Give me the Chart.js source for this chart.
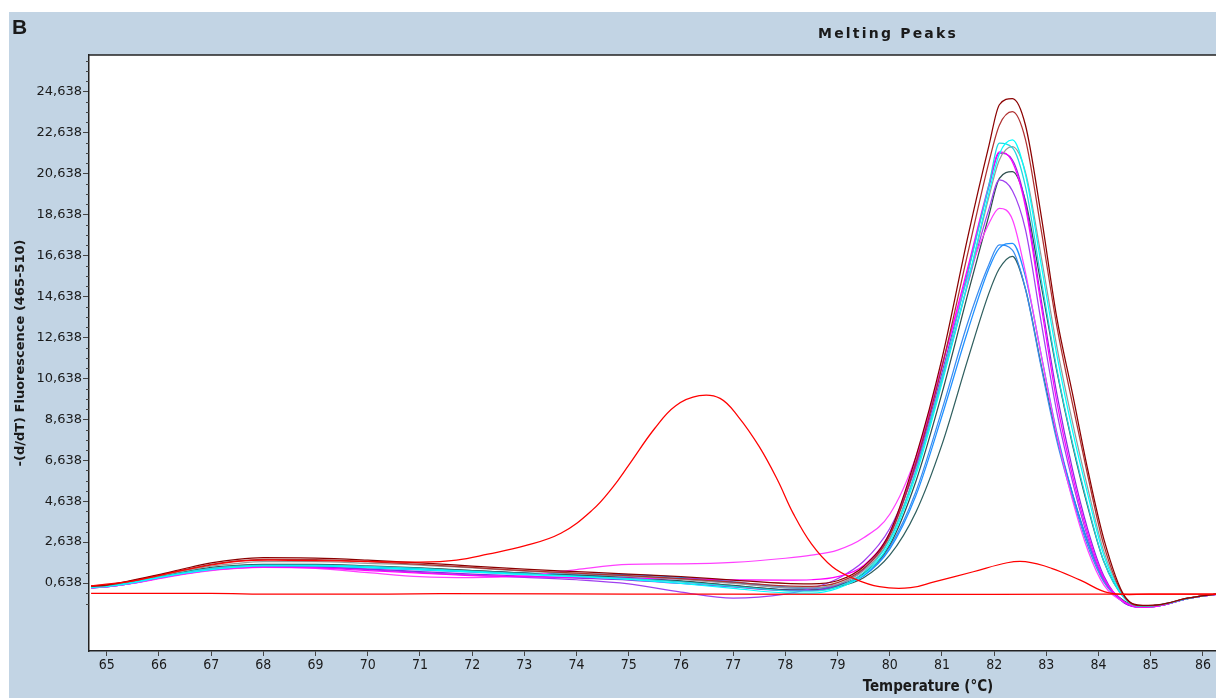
<!DOCTYPE html>
<html>
<head>
<meta charset="utf-8">
<title>Melting Peaks</title>
<script src="https://cdn.jsdelivr.net/npm/chart.js@4.4.1/dist/chart.umd.min.js"></script>
<style>
  html, body { margin: 0; padding: 0; background: #ffffff; overflow: hidden; }
  canvas { display: block; }
</style>
</head>
<body>
<canvas id="chart" width="1216" height="698"></canvas>
<script>
// Temperature grid (°C) shared by the sample curves
const temps = [64.7, 65.0, 65.5, 66.0, 66.5, 67.0, 67.5, 68.0, 69.0, 70.0, 71.0, 72.0, 73.0, 74.0, 75.0, 76.0, 77.0, 78.0, 78.5, 79.0, 79.5, 80.0, 80.5, 81.0, 81.5, 81.9, 82.1, 82.35, 82.6, 82.9, 83.2, 83.5, 83.8, 84.1, 84.5, 84.85, 85.2, 85.7, 86.3];

// -(d/dT) fluorescence, one list per well
const wellA1 = [0.50, 0.55, 0.78, 1.05, 1.35, 1.62, 1.80, 1.88, 1.86, 1.76, 1.63, 1.47, 1.32, 1.20, 1.08, 0.95, 0.78, 0.62, 0.60, 0.75, 1.45, 3.10, 6.80, 11.60, 17.60, 22.00, 24.00, 24.30, 23.00, 18.60, 13.60, 9.90, 6.10, 2.80, 0.00, -0.45, -0.40, -0.10, 0.12];
const wellA2 = [0.48, 0.53, 0.75, 1.02, 1.30, 1.55, 1.72, 1.80, 1.78, 1.68, 1.55, 1.40, 1.25, 1.12, 1.00, 0.86, 0.68, 0.50, 0.48, 0.66, 1.35, 2.95, 6.50, 11.20, 16.80, 21.20, 23.00, 23.66, 22.30, 17.90, 13.20, 9.40, 5.80, 2.50, -0.05, -0.48, -0.42, -0.10, 0.12];
const wellA3 = [0.42, 0.47, 0.65, 0.90, 1.12, 1.30, 1.42, 1.48, 1.48, 1.40, 1.30, 1.18, 1.05, 0.95, 0.82, 0.62, 0.38, 0.16, 0.15, 0.38, 1.05, 2.60, 5.90, 10.40, 15.40, 19.70, 21.60, 22.28, 20.60, 16.20, 11.80, 8.10, 4.90, 2.00, -0.10, -0.50, -0.42, -0.12, 0.12];
const wellA4 = [0.44, 0.49, 0.68, 0.93, 1.16, 1.35, 1.46, 1.52, 1.52, 1.45, 1.35, 1.22, 1.10, 0.98, 0.86, 0.70, 0.48, 0.26, 0.24, 0.45, 1.15, 2.75, 6.10, 10.70, 15.80, 20.10, 22.12, 21.90, 20.00, 15.50, 11.10, 7.50, 4.40, 1.70, -0.12, -0.50, -0.42, -0.12, 0.12];
const wellA5 = [0.46, 0.51, 0.72, 0.98, 1.24, 1.46, 1.60, 1.68, 1.68, 1.60, 1.52, 1.38, 1.22, 1.10, 0.98, 0.82, 0.62, 0.42, 0.40, 0.58, 1.25, 2.80, 6.10, 10.50, 15.30, 19.50, 21.30, 21.95, 20.70, 16.60, 12.20, 8.50, 5.20, 2.20, -0.05, -0.48, -0.42, -0.10, 0.12];
const wellA6 = [0.42, 0.46, 0.64, 0.88, 1.10, 1.28, 1.38, 1.42, 1.38, 1.25, 1.12, 1.00, 0.95, 0.92, 0.88, 0.84, 0.80, 0.78, 0.80, 0.95, 1.50, 3.10, 6.60, 11.20, 16.10, 20.10, 21.70, 21.20, 19.00, 14.20, 9.50, 5.90, 3.00, 0.90, -0.30, -0.55, -0.45, -0.12, 0.10];
const wellB1 = [0.42, 0.46, 0.62, 0.85, 1.08, 1.25, 1.35, 1.40, 1.35, 1.15, 0.95, 0.90, 1.00, 1.30, 1.55, 1.58, 1.65, 1.85, 2.00, 2.25, 2.85, 4.00, 6.80, 11.30, 15.60, 18.20, 18.94, 18.40, 15.80, 11.80, 7.90, 4.70, 2.20, 0.55, -0.30, -0.55, -0.45, -0.12, 0.10];
const wellB2 = [0.40, 0.45, 0.63, 0.88, 1.12, 1.30, 1.40, 1.45, 1.42, 1.32, 1.20, 1.08, 0.98, 0.88, 0.78, 0.62, 0.45, 0.28, 0.28, 0.55, 1.30, 3.00, 6.40, 10.90, 15.90, 20.00, 21.64, 21.30, 19.20, 14.50, 9.90, 6.20, 3.20, 1.00, -0.35, -0.55, -0.45, -0.12, 0.10];
const wellB3 = [0.40, 0.45, 0.63, 0.88, 1.10, 1.27, 1.37, 1.42, 1.40, 1.30, 1.15, 1.02, 0.92, 0.80, 0.60, 0.20, -0.10, 0.10, 0.38, 0.85, 1.70, 3.30, 6.30, 10.60, 15.30, 18.90, 20.33, 19.80, 17.90, 13.40, 9.00, 5.60, 2.80, 0.80, -0.35, -0.55, -0.45, -0.12, 0.10];
const wellB4 = [0.45, 0.50, 0.70, 0.95, 1.20, 1.40, 1.50, 1.55, 1.55, 1.48, 1.38, 1.25, 1.12, 1.02, 0.90, 0.74, 0.52, 0.32, 0.30, 0.50, 1.10, 2.50, 5.60, 9.90, 14.80, 18.60, 20.40, 20.73, 19.30, 15.20, 11.00, 7.40, 4.30, 1.70, -0.10, -0.50, -0.42, -0.12, 0.12];
const wellB5 = [0.44, 0.49, 0.68, 0.92, 1.16, 1.34, 1.45, 1.50, 1.50, 1.42, 1.33, 1.22, 1.12, 1.08, 1.05, 0.92, 0.70, 0.45, 0.40, 0.55, 1.00, 2.30, 4.90, 8.80, 13.00, 16.00, 17.00, 17.23, 15.60, 11.80, 8.00, 5.00, 2.60, 0.80, -0.30, -0.55, -0.45, -0.12, 0.10];
const wellB6 = [0.43, 0.48, 0.66, 0.90, 1.13, 1.31, 1.42, 1.47, 1.46, 1.38, 1.28, 1.17, 1.08, 1.02, 0.98, 0.86, 0.65, 0.40, 0.36, 0.52, 1.00, 2.40, 5.10, 9.10, 13.40, 16.20, 17.15, 16.90, 15.00, 11.20, 7.60, 4.80, 2.40, 0.70, -0.32, -0.55, -0.45, -0.12, 0.10];
const wellC1 = [0.44, 0.49, 0.68, 0.92, 1.15, 1.33, 1.44, 1.50, 1.50, 1.44, 1.36, 1.24, 1.12, 1.00, 0.88, 0.72, 0.50, 0.30, 0.28, 0.45, 0.90, 2.00, 4.10, 7.40, 11.60, 14.80, 16.00, 16.60, 15.00, 11.30, 7.80, 5.00, 2.60, 0.80, -0.25, -0.52, -0.45, -0.12, 0.10];

// Well with the early (primer-dimer) peak, on its own temperature grid
const dimerTemps = [64.7, 65.5, 66.5, 67.5, 68.5, 70.0, 71.0, 71.7, 72.3, 73.0, 73.7, 74.3, 74.7, 75.0, 75.5, 75.9, 76.35, 76.75, 77.1, 77.5, 77.85, 78.15, 78.5, 78.9, 79.3, 79.8, 80.4, 80.85, 81.6, 82.25, 82.6, 83.1, 83.65, 84.2, 85.0, 86.3];
const dimerWell = [0.50, 0.75, 1.28, 1.70, 1.75, 1.70, 1.66, 1.76, 2.05, 2.45, 3.07, 4.20, 5.34, 6.40, 8.20, 9.30, 9.79, 9.66, 8.76, 7.30, 5.67, 4.04, 2.55, 1.43, 0.87, 0.46, 0.41, 0.70, 1.19, 1.63, 1.68, 1.36, 0.78, 0.16, 0.10, 0.10];

// No-template control
const ntcTemps = [64.7, 67.0, 68.2, 70.4, 71.4, 75.0, 80.0, 84.0, 86.3];
const ntcWell = [0.13, 0.13, 0.10, 0.10, 0.12, 0.10, 0.08, 0.10, 0.10];

// Axis ticks
const xTicks = [65, 66, 67, 68, 69, 70, 71, 72, 73, 74, 75, 76, 77, 78, 79, 80, 81, 82, 83, 84, 85, 86];
const yTicks = [0.638, 2.638, 4.638, 6.638, 8.638, 10.638, 12.638, 14.638, 16.638, 18.638, 20.638, 22.638, 24.638];
const yTickLabels = ['0,638', '2,638', '4,638', '6,638', '8,638', '10,638', '12,638', '14,638', '16,638', '18,638', '20,638', '22,638', '24,638'];

const PANEL = '#C2D4E4';
const INK = '#1a1a1a';

const pts = (xs, ys) => xs.map((x, i) => ({ x: x, y: ys[i] }));

const series = [
  { label: 'Dimer', xs: dimerTemps, ys: dimerWell, color: '#FF0000', smooth: true },
  { label: 'NTC', xs: ntcTemps, ys: ntcWell, color: '#FF0000' },
  { label: 'A1', xs: temps, ys: wellA1, color: '#8B0000' },
  { label: 'A2', xs: temps, ys: wellA2, color: '#B03030' },
  { label: 'A3', xs: temps, ys: wellA3, color: '#00FFFF' },
  { label: 'A4', xs: temps, ys: wellA4, color: '#20D8E0' },
  { label: 'A5', xs: temps, ys: wellA5, color: '#9A9A9A' },
  { label: 'A6', xs: temps, ys: wellA6, color: '#FF00FF' },
  { label: 'B1', xs: temps, ys: wellB1, color: '#FF40FF' },
  { label: 'B2', xs: temps, ys: wellB2, color: '#8A2BE2' },
  { label: 'B3', xs: temps, ys: wellB3, color: '#A040F0' },
  { label: 'B4', xs: temps, ys: wellB4, color: '#2F4F4F' },
  { label: 'B5', xs: temps, ys: wellB5, color: '#1E90FF' },
  { label: 'B6', xs: temps, ys: wellB6, color: '#3A8CF0' },
  { label: 'C1', xs: temps, ys: wellC1, color: '#2F5F5F' }
];

const frame = {
  id: 'frame',
  beforeDraw(chart) {
    const { ctx, chartArea: a, width, height } = chart;
    ctx.save();
    ctx.fillStyle = '#ffffff';
    ctx.fillRect(0, 0, width, height);
    ctx.fillStyle = PANEL;
    ctx.fillRect(9, 12, width - 9, height - 12);
    ctx.fillStyle = '#ffffff';
    ctx.fillRect(a.left, a.top, a.right - a.left, a.bottom - a.top);
    ctx.restore();
  },
  afterDraw(chart) {
    const { ctx, chartArea: a } = chart;
    const ys = chart.scales.y;
    ctx.save();
    // top edge of the plot box
    ctx.strokeStyle = '#222';
    ctx.lineWidth = 1.5;
    ctx.beginPath();
    ctx.moveTo(a.left, a.top);
    ctx.lineTo(a.right, a.top);
    ctx.stroke();
    // minor ticks every 0.5 on the y axis
    ctx.lineWidth = 1;
    ctx.strokeStyle = '#444';
    for (let k = -2; k <= 51; k++) {
      if (k % 4 === 0) continue;
      const py = Math.round(ys.getPixelForValue(0.638 + 0.5 * k)) + 0.5;
      if (py < a.top || py > a.bottom) continue;
      ctx.beginPath();
      ctx.moveTo(a.left - 3, py);
      ctx.lineTo(a.left, py);
      ctx.stroke();
    }
    // panel letter and headings
    ctx.fillStyle = INK;
    ctx.textAlign = 'left';
    ctx.textBaseline = 'alphabetic';
    ctx.font = 'bold 21px "Liberation Sans", Arial, sans-serif';
    ctx.fillText('B', 12, 34);
    ctx.font = 'bold 14px "DejaVu Sans", sans-serif';
    ctx.letterSpacing = '2.2px';
    ctx.fillText('Melting Peaks', 818, 38);
    ctx.letterSpacing = '0px';
    ctx.font = 'bold 15px "DejaVu Sans Condensed", "DejaVu Sans", sans-serif';
    ctx.textAlign = 'center';
    ctx.fillText('Temperature (°C)', 928, 691);
    ctx.restore();
  }
};

new Chart(document.getElementById('chart'), {
  type: 'line',
  data: {
    datasets: series.map(s => ({
      label: s.label,
      data: pts(s.xs, s.ys),
      borderColor: s.color,
      backgroundColor: s.color,
      borderWidth: 1.25,
      pointRadius: 0,
      fill: false,
      cubicInterpolationMode: s.smooth ? 'default' : 'monotone',
      tension: s.smooth ? 0.4 : 0
    }))
  },
  options: {
    responsive: false,
    devicePixelRatio: 1,
    animation: false,
    events: [],
    layout: { padding: { top: 55, left: 0, right: 0, bottom: 0 } },
    plugins: { legend: { display: false }, tooltip: { enabled: false }, title: { display: false } },
    scales: {
      x: {
        type: 'linear',
        min: 64.66,
        max: 86.25,
        afterBuildTicks: scale => { scale.ticks = xTicks.map(v => ({ value: v })); },
        afterFit: scale => { scale.height = 47; },
        grid: { display: true, drawOnChartArea: false, drawTicks: true, tickLength: 5, color: '#444', tickColor: '#444' },
        border: { display: true, color: '#222', width: 1.5 },
        ticks: {
          autoSkip: false, maxRotation: 0, padding: 1, color: INK,
          font: { family: '"DejaVu Sans Condensed", "DejaVu Sans", sans-serif', size: 14 },
          callback: v => String(v)
        },
        title: { display: false }
      },
      y: {
        type: 'linear',
        min: -2.68,
        max: 26.43,
        afterBuildTicks: scale => { scale.ticks = yTicks.map(v => ({ value: v })); },
        afterFit: scale => { scale.width = 89; },
        grid: { display: true, drawOnChartArea: false, drawTicks: true, tickLength: 6, color: '#444', tickColor: '#444' },
        border: { display: true, color: '#222', width: 1.5 },
        ticks: {
          autoSkip: false, padding: 1, color: INK,
          font: { family: '"DejaVu Sans", sans-serif', size: 13 },
          callback: (v, i) => yTickLabels[i]
        },
        title: {
          display: true,
          text: '-(d/dT) Fluorescence (465-510)',
          color: INK,
          font: { family: '"DejaVu Sans", sans-serif', size: 13, weight: 'bold' },
          padding: { top: 13, bottom: 0 }
        }
      }
    }
  },
  plugins: [frame]
});
</script>
</body>
</html>
